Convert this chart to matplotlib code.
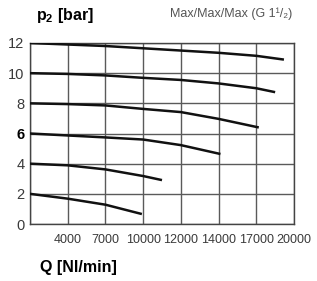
import numpy as np
from matplotlib import pyplot as plt

# ---- data ----
TICK_FLOWS = [0, 4000, 7000, 10000, 12000, 14000, 17000, 20000]
TICK_LABELS = ["", "4000", "7000", "10000", "12000", "14000", "17000", "20000"]
Y_TICKS = [0, 2, 4, 6, 8, 10, 12]

FLOW_12 = [0, 4000, 7000, 10000, 12000, 14000, 17000, 19200]
P2_12 = [12.0, 11.9, 11.8, 11.65, 11.5, 11.35, 11.15, 10.9]
FLOW_10 = [0, 4000, 7000, 10000, 12000, 14000, 17000, 18500]
P2_10 = [10.0, 9.95, 9.85, 9.69, 9.55, 9.32, 9.0, 8.74]
FLOW_8 = [0, 4000, 7000, 10000, 12000, 14000, 17200]
P2_8 = [8.0, 7.95, 7.86, 7.63, 7.42, 6.97, 6.4]
FLOW_6 = [0, 4000, 7000, 10000, 12000, 14150]
P2_6 = [6.0, 5.87, 5.74, 5.6, 5.23, 4.64]
FLOW_4 = [0, 4000, 7000, 10000, 11000]
P2_4 = [4.0, 3.89, 3.62, 3.18, 2.91]
FLOW_2 = [0, 4000, 7000, 9900]
P2_2 = [2.0, 1.68, 1.28, 0.66]

CURVES = [(FLOW_12, P2_12), (FLOW_10, P2_10), (FLOW_8, P2_8),
          (FLOW_6, P2_6), (FLOW_4, P2_4), (FLOW_2, P2_2)]

plt.rcParams['font.family'] = ['Liberation Sans', 'DejaVu Sans']
plt.rcParams['mathtext.fontset'] = 'custom'
plt.rcParams['mathtext.rm'] = 'Liberation Sans'
plt.rcParams['mathtext.bf'] = 'Liberation Sans:bold'

# the flow axis has equally spaced grid cells with uneven values
pos = np.arange(len(TICK_FLOWS), dtype=float)


def forward(q):
    return np.interp(q, TICK_FLOWS, pos)


def inverse(p):
    return np.interp(p, pos, TICK_FLOWS)


fig = plt.figure(figsize=(3.17, 2.81), dpi=100)
ax = fig.add_axes([30 / 317, 1 - 224 / 281, 264 / 317, 181 / 281])
ax.set_xscale('function', functions=(forward, inverse))

for flow, p2 in CURVES:
    ax.plot(flow, p2, color='#111111', lw=1.8, solid_capstyle='butt', zorder=3)

ax.set_xlim(0, 20000)
ax.set_ylim(0, 12)
ax.set_xticks(TICK_FLOWS)
ax.set_xticklabels(TICK_LABELS, fontsize=9, color='#3a3a3a')
ax.set_yticks(Y_TICKS)
ax.set_yticklabels([str(v) for v in Y_TICKS], fontsize=10.5, color='#3a3a3a')
for lab in ax.get_yticklabels():
    if lab.get_text() == "6":
        lab.set_fontweight('bold')
        lab.set_color('black')
ax.tick_params(axis='both', length=0)
ax.tick_params(axis='x', pad=7)
ax.tick_params(axis='y', pad=4)
ax.grid(True, color='#5a5a5a', lw=1.0)
ax.set_axisbelow(True)
for sp in ax.spines.values():
    sp.set_color('#444444')
    sp.set_linewidth(1.0)

fig.text(36 / 317, 1 - 20 / 281, r'$\mathbf{p_2}$ [bar]', fontsize=11.5,
         fontweight='bold', va='baseline')
fig.text(292 / 317, 1 - 17 / 281, 'Max/Max/Max (G 1\u00b9/\u2082)',
         fontsize=9, color='#555555', ha='right', va='baseline')
fig.text(40 / 317, 1 - 272 / 281, 'Q [Nl/min]', fontsize=11.5,
         fontweight='bold', va='baseline')

fig.savefig('out.png', dpi=100)
